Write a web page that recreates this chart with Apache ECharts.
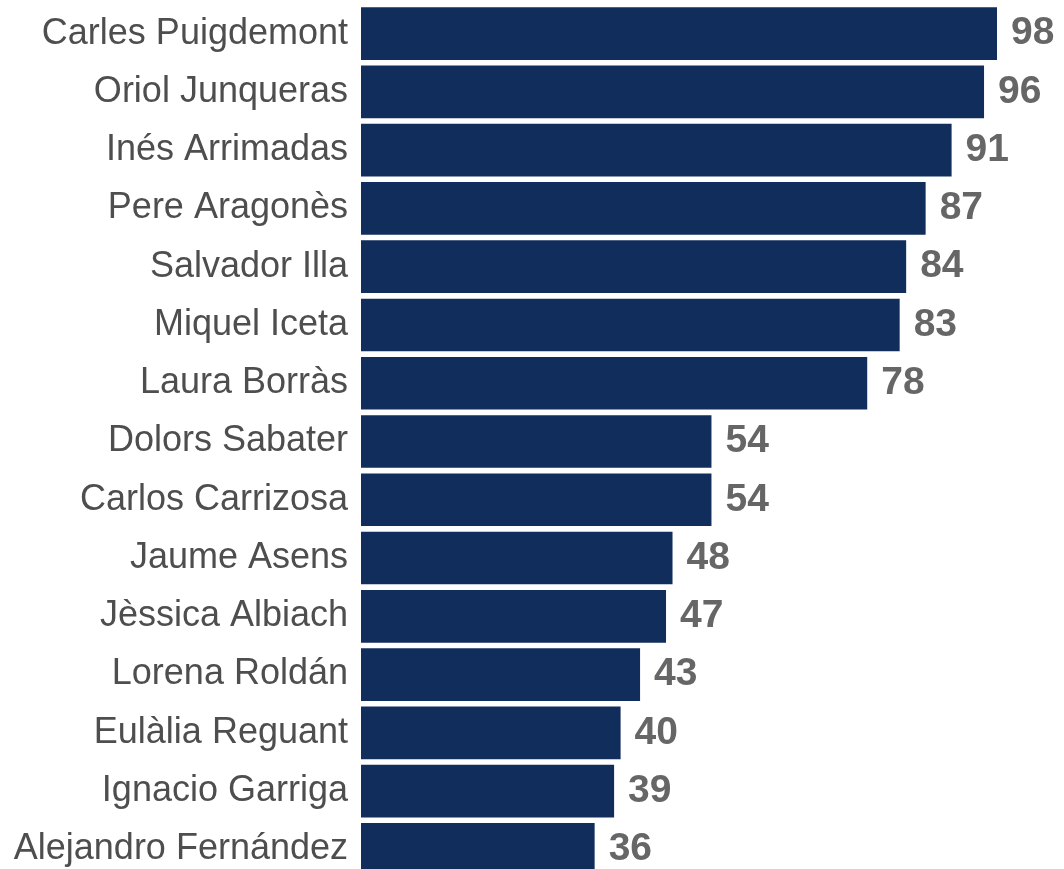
<!DOCTYPE html>
<html>
<head>
<meta charset="utf-8">
<script src="https://cdn.jsdelivr.net/npm/echarts@6/dist/echarts.min.js"></script>
<style>
  html, body { margin: 0; padding: 0; background: #fff; overflow: hidden; }
  /* chart area is a bit taller than the window: the last bar is cut off at the bottom in the source */
  #bar { width: 1064px; height: 882px; }
</style>
</head>
<body>
<div id="bar"></div>
<script>
var names = ['Carles Puigdemont', 'Oriol Junqueras', 'Inés Arrimadas', 'Pere Aragonès', 'Salvador Illa',
	'Miquel Iceta', 'Laura Borràs', 'Dolors Sabater', 'Carlos Carrizosa', 'Jaume Asens',
	'Jèssica Albiach', 'Lorena Roldán', 'Eulàlia Reguant', 'Ignacio Garriga', 'Alejandro Fernández'];
var values = [98, 96, 91, 87, 84, 83, 78, 54, 54, 48, 47, 43, 40, 39, 36];

var myChart = echarts.init(document.getElementById('bar'));

var option = {
	animation: false,
	grid: {
		left: 361,
		right: 54,
		top: 4.5,
		height: 874
	},
	xAxis: {
		type: 'value',
		min: 0,
		max: 100,
		show: false
	},
	yAxis: {
		type: 'category',
		inverse: true,
		data: names,
		axisLine: { show: false },
		axisTick: { show: false },
		axisLabel: {
			margin: 13,
			fontSize: 36,
			fontFamily: '"Liberation Sans", Arial, sans-serif',
			color: '#4e4e4e'
		}
	},
	series: [{
		type: 'bar',
		data: values,
		barCategoryGap: '9.6%',
		itemStyle: { color: '#112d5c' },
		label: {
			show: true,
			position: 'right',
			distance: 14,
			fontSize: 39,
			fontWeight: 'bold',
			fontFamily: '"Liberation Sans", Arial, sans-serif',
			color: '#666666'
		}
	}]
};
myChart.setOption(option);
</script>
</body>
</html>
